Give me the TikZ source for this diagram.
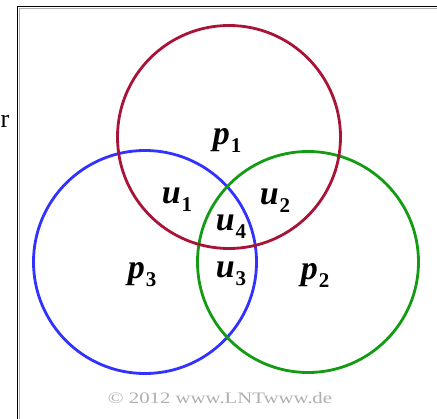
\documentclass[tikz,border=0pt]{standalone}
\usepackage{fontspec}
\setmainfont{Liberation Serif}
\definecolor{cred}{RGB}{168,20,56}
\definecolor{cblue}{RGB}{50,50,255}
\definecolor{cgreen}{RGB}{20,155,20}
\definecolor{cgray}{RGB}{175,175,175}
\newcommand{\lbl}[2]{{\fontsize{34}{34}\selectfont\bfseries\itshape #1}\kern1pt\raisebox{-8pt}{\fontsize{21}{21}\selectfont\bfseries #2}}
\begin{document}
\begin{tikzpicture}[x=1pt,y=1pt,
  ring/.style={line width=2.8pt},
  lab/.style={inner sep=0pt}]
\useasboundingbox (0,0) rectangle (437,-419);
\begin{scope}
\clip (0,0) rectangle (437,-419);
\draw[cgray,line width=1pt] (19.5,-450) -- (19.5,-8.5) -- (460,-8.5);
\draw[black,line width=1.8pt] (17.5,-450) -- (17.5,-6.5) -- (460,-6.5);
\end{scope}
\node[lab,anchor=base west,font=\fontsize{26}{26}\selectfont] (frag) at (0.5,-128) {r};
\coordinate (cR) at (229,-137);
\coordinate (cB) at (145,-262);
\coordinate (cG) at (308,-262);
\draw[ring,cblue] (cB) circle (111.5);
\draw[ring,cgreen] (cG) circle (110.5);
\draw[ring,cred] (cR) circle (111.5);
\node[lab] (p1) at (227,-140) {\lbl{p}{1}};
\node[lab] (u1) at (177,-200) {\lbl{u}{1}};
\node[lab] (u2) at (275,-201) {\lbl{u}{2}};
\node[lab] (u4) at (231,-227) {\lbl{u}{4}};
\node[lab] (u3) at (231,-274) {\lbl{u}{3}};
\node[lab] (p3) at (142,-275) {\lbl{p}{3}};
\node[lab] (p2) at (315,-275) {\lbl{p}{2}};
\node[lab,text=cgray] (copy) at (220,-398) {\scalebox{1.3}[1]{\fontsize{16}{16}\selectfont \textcopyright\ 2012 www.LNTwww.de}};
\end{tikzpicture}
\end{document}
